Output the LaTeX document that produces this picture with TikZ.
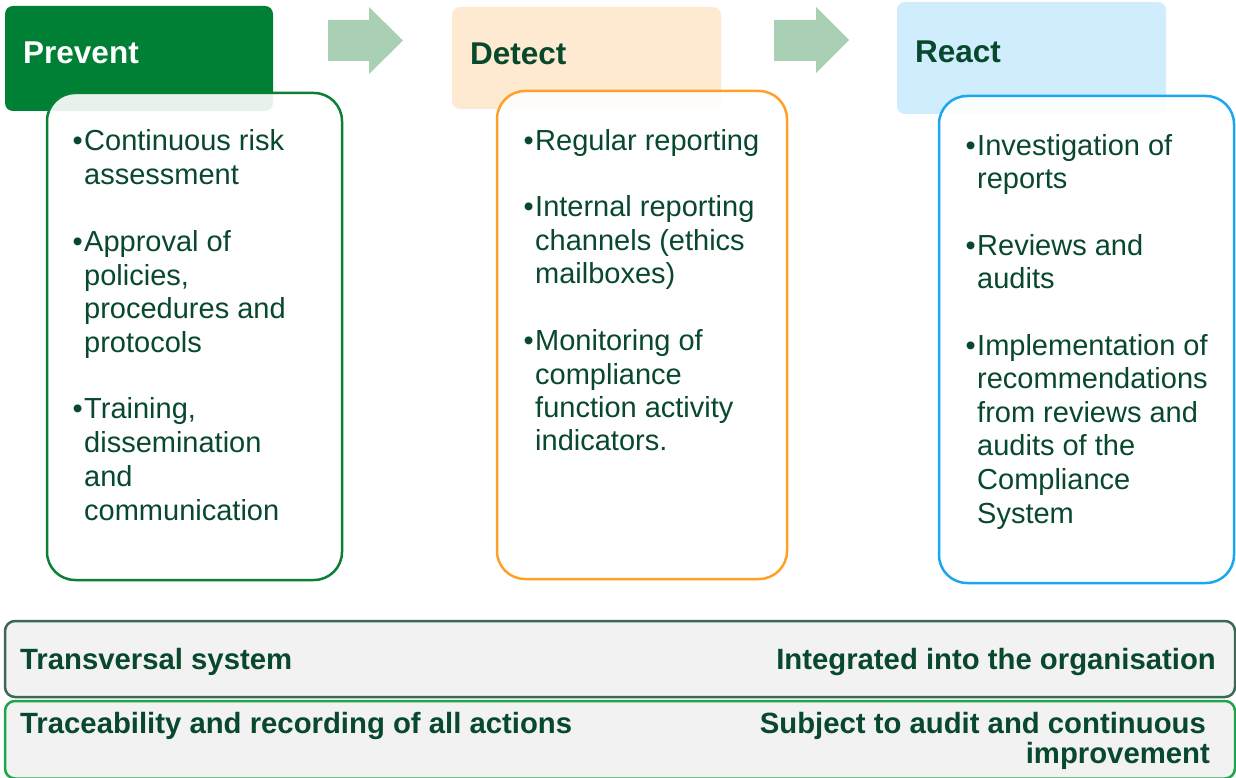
\documentclass[tikz,border=0pt]{standalone}
\usepackage{fontspec}
\setmainfont{Liberation Sans}
\definecolor{dg}{RGB}{8,72,44}
\definecolor{hgreen}{RGB}{0,128,52}
\definecolor{bgreen}{RGB}{10,128,52}
\definecolor{arrowc}{RGB}{169,208,180}
\definecolor{hpeach}{RGB}{254,234,209}
\definecolor{borange}{RGB}{255,160,40}
\definecolor{hblue}{RGB}{207,237,253}
\definecolor{bblue}{RGB}{26,167,240}
\definecolor{barfill}{RGB}{242,242,242}
\definecolor{bar1c}{RGB}{60,105,85}
\definecolor{bar2c}{RGB}{30,165,75}
\begin{document}
\begin{tikzpicture}[x=1pt,y=-1pt,
  body/.style={font=\fontsize{29}{34}\selectfont, text=dg, inner sep=0pt, anchor=base west},
  bul/.style={font=\fontsize{29}{34}\selectfont, text=dg, inner sep=0pt, anchor=base east},
  head/.style={font=\fontsize{31.5}{36}\selectfont\bfseries, inner sep=0pt, anchor=base west},
  bartxt/.style={font=\fontsize{29.3}{34}\selectfont\bfseries, text=dg, inner sep=0pt},
  hdr/.style={rounded corners=8pt},
  card/.style={line width=2.5pt, fill=white, fill opacity=0.9, rounded corners=28pt},
  barbox/.style={line width=2.5pt, fill=barfill, rounded corners=10pt},
  flow/.style={fill=arrowc}]
\useasboundingbox (0,0) rectangle (1236,778);
% headers
\fill[hdr, hgreen] (5,6) rectangle (273,111);
\fill[hdr, hpeach] (452,7) rectangle (721,109);
\fill[hdr, hblue] (897,2) rectangle (1166,114);
\node[head, text=white] (hprev) at (23,64) {Prevent};
\node[head, text=dg] (hdet) at (470,65) {Detect};
\node[head, text=dg] (hreact) at (915,63) {React};
% arrows
\fill[flow] (328,20) -- (369,20) -- (369,7) -- (403,40.5) -- (369,74) -- (369,61) -- (328,61) -- cycle;
\fill[flow] (774,20) -- (816,20) -- (816,7) -- (849,40) -- (816,73) -- (816,61) -- (774,61) -- cycle;
% cards
\draw[card, draw=bgreen] (47,93) rectangle (342,580);
\draw[card, draw=borange] (497,91) rectangle (787,579);
\draw[card, draw=bblue] (939,96) rectangle (1234,583);
% Prevent text
\foreach \t/\y [count=\i] in {Continuous risk/151, assessment/185, Approval of/251, {policies,}/285, procedures and/318, protocols/352, {Training,}/418, dissemination/452, and/486, communication/520}
  \node[body] (p\i) at (84,\y) {\t};
\foreach \y [count=\i] in {151,251,418}
  \node[bul] (pb\i) at (83,\y) {•};
% Detect text
\foreach \t/\y [count=\i] in {Regular reporting/151, Internal reporting/216, channels (ethics/250, mailboxes)/283, Monitoring of/350, compliance/384, function activity/417, indicators./450}
  \node[body] (d\i) at (535,\y) {\t};
\foreach \y [count=\i] in {151,216,350}
  \node[bul] (db\i) at (534,\y) {•};
% React text
\foreach \t/\y [count=\i] in {Investigation of/156, reports/189, Reviews and/255, audits/288, Implementation of/355, recommendations/388, from reviews and/422, audits of the/455, Compliance/489, System/523}
  \node[body] (r\i) at (977,\y) {\t};
\foreach \y [count=\i] in {156,255,355}
  \node[bul] (rb\i) at (976,\y) {•};
% bottom bars
\draw[barbox, draw=bar1c] (5,621) rectangle (1235,697);
\draw[barbox, draw=bar2c] (5,701) rectangle (1235,778.5);
\node[bartxt, anchor=base west] (t1) at (20,669) {Transversal system};
\node[bartxt, anchor=base east] (t2) at (1216,669) {Integrated into the organisation};
\node[bartxt, anchor=base west] (t3) at (20,733) {Traceability and recording of all actions};
\node[bartxt, anchor=base east] (t4) at (1206,733) {Subject to audit and continuous};
\node[bartxt, anchor=base east] (t5) at (1210,763) {improvement};
\end{tikzpicture}
\end{document}
